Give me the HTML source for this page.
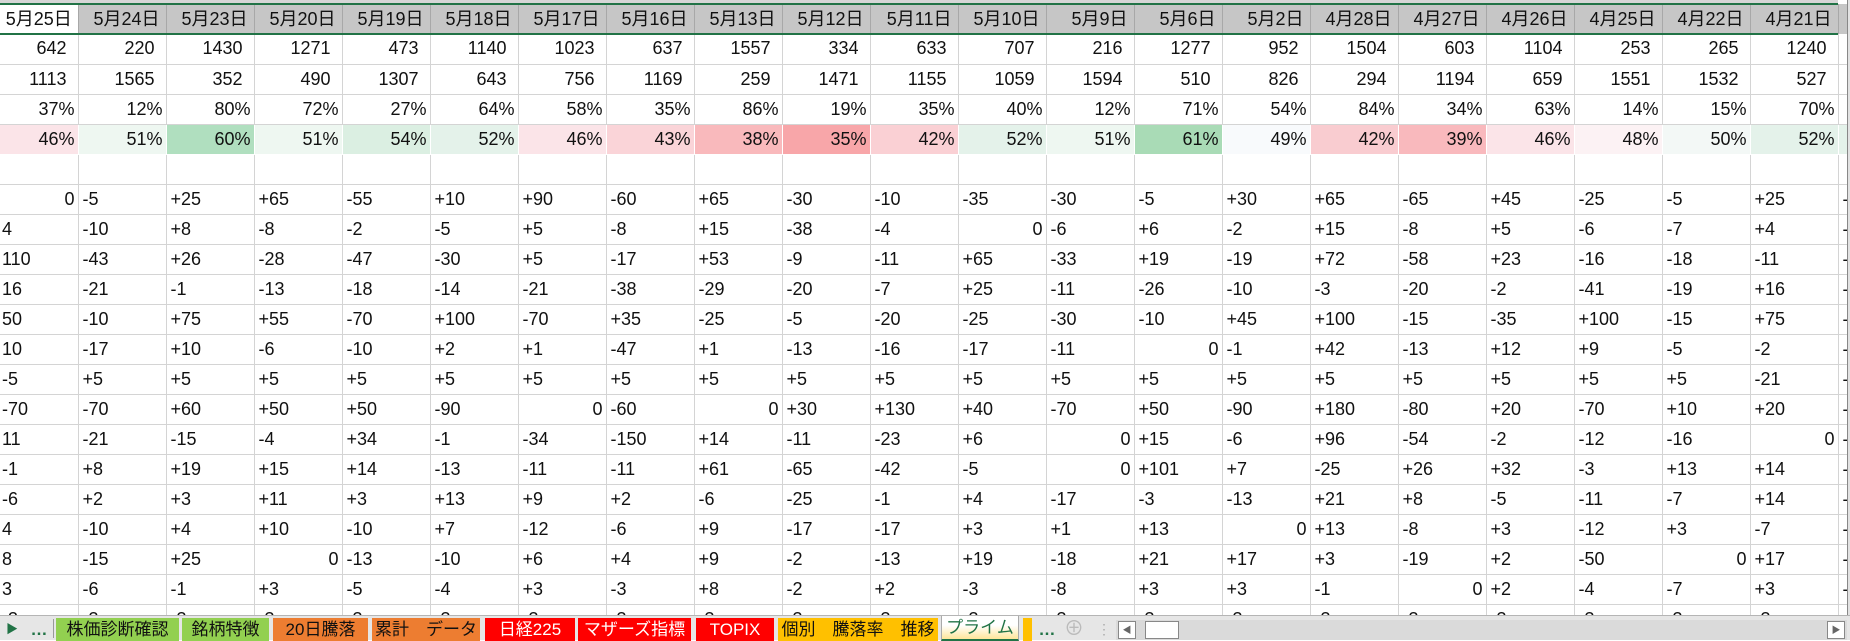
<!DOCTYPE html>
<html><head><meta charset="utf-8">
<style>
*{margin:0;padding:0;box-sizing:border-box}
body{width:1850px;height:640px;overflow:hidden;background:#fff;position:relative;font-family:"Liberation Sans","Noto Sans CJK JP",sans-serif;color:#111}
#top{position:absolute;left:0;top:0;width:1838px;height:4px;background:#d6d6d6}
table{position:absolute;left:0;top:4px;border-collapse:collapse;table-layout:fixed;width:1850px}
td{height:30px;border-right:1px solid #d4d4d4;border-bottom:1px solid #d4d4d4;font-size:18px;white-space:nowrap;overflow:hidden;vertical-align:middle;padding:0 4px;line-height:29px}
tr.h td{background:#c6c6c6;text-align:right;padding-right:6px;border-right:1px solid #a8a8a8;border-bottom:none}
tr.h td:first-child{background:#fff;text-align:center;padding:0}
tr.n td{text-align:right;padding-right:11px}
tr.p td{text-align:right;padding-right:3px}
tr.d td{text-align:left}
tr.d td.z{text-align:right;padding-right:3px}
tr.d td:first-child{padding-left:2px}
td.c{border-bottom-color:transparent;border-right-color:transparent}
#g1{position:absolute;left:0;top:3px;width:1838px;height:2px;background:#217346}
#g2{position:absolute;left:0;top:33px;width:1838px;height:2px;background:#217346}
#vs{position:absolute;left:1847px;top:0;width:3px;height:615px;background:#e2e2e2;border-left:1px solid #888}
#tb{position:absolute;left:0;top:615px;width:1850px;height:25px;background:#e6e6e6;border-top:1px solid #b5b5b5}
.t{position:absolute;top:2px;height:23px;font-size:17px;line-height:23px;text-align:center;white-space:nowrap}
</style></head><body>
<div id="top"></div>
<table>
<colgroup><col style="width:78px"><col span="20" style="width:88px"><col style="width:12px"></colgroup>
<tr class="h"><td>5月25日</td><td>5月24日</td><td>5月23日</td><td>5月20日</td><td>5月19日</td><td>5月18日</td><td>5月17日</td><td>5月16日</td><td>5月13日</td><td>5月12日</td><td>5月11日</td><td>5月10日</td><td>5月9日</td><td>5月6日</td><td>5月2日</td><td>4月28日</td><td>4月27日</td><td>4月26日</td><td>4月25日</td><td>4月22日</td><td>4月21日</td><td style="background:#c6c6c6"></td></tr>
<tr class="n"><td>642</td><td>220</td><td>1430</td><td>1271</td><td>473</td><td>1140</td><td>1023</td><td>637</td><td>1557</td><td>334</td><td>633</td><td>707</td><td>216</td><td>1277</td><td>952</td><td>1504</td><td>603</td><td>1104</td><td>253</td><td>265</td><td>1240</td><td></td></tr>
<tr class="n"><td>1113</td><td>1565</td><td>352</td><td>490</td><td>1307</td><td>643</td><td>756</td><td>1169</td><td>259</td><td>1471</td><td>1155</td><td>1059</td><td>1594</td><td>510</td><td>826</td><td>294</td><td>1194</td><td>659</td><td>1551</td><td>1532</td><td>527</td><td></td></tr>
<tr class="p"><td>37%</td><td>12%</td><td>80%</td><td>72%</td><td>27%</td><td>64%</td><td>58%</td><td>35%</td><td>86%</td><td>19%</td><td>35%</td><td>40%</td><td>12%</td><td>71%</td><td>54%</td><td>84%</td><td>34%</td><td>63%</td><td>14%</td><td>15%</td><td>70%</td><td></td></tr>
<tr class="p"><td class="c" style="background:#fbe4e8">46%</td><td class="c" style="background:#eef7f1">51%</td><td class="c" style="background:#b0dfbf">60%</td><td class="c" style="background:#eef7f1">51%</td><td class="c" style="background:#dbefe2">54%</td><td class="c" style="background:#e4f2ea">52%</td><td class="c" style="background:#fbe4e8">46%</td><td class="c" style="background:#fad4d8">43%</td><td class="c" style="background:#f9b9bc">38%</td><td class="c" style="background:#f8a6a9">35%</td><td class="c" style="background:#fad0d4">42%</td><td class="c" style="background:#e4f2ea">52%</td><td class="c" style="background:#eef7f1">51%</td><td class="c" style="background:#a9dbb6">61%</td><td class="c" style="background:#f8fafc">49%</td><td class="c" style="background:#f9ccd0">42%</td><td class="c" style="background:#f9b9bd">39%</td><td class="c" style="background:#fbe4e8">46%</td><td class="c" style="background:#fcf2f4">48%</td><td class="c" style="background:#f3f8f6">50%</td><td class="c" style="background:#e4f2ea">52%</td><td class="c" style="background:#e4f2ea"></td></tr>
<tr><td></td><td></td><td></td><td></td><td></td><td></td><td></td><td></td><td></td><td></td><td></td><td></td><td></td><td></td><td></td><td></td><td></td><td></td><td></td><td></td><td></td><td></td></tr>
<tr class="d"><td class="z">0</td><td>-5</td><td>+25</td><td>+65</td><td>-55</td><td>+10</td><td>+90</td><td>-60</td><td>+65</td><td>-30</td><td>-10</td><td>-35</td><td>-30</td><td>-5</td><td>+30</td><td>+65</td><td>-65</td><td>+45</td><td>-25</td><td>-5</td><td>+25</td><td>-</td></tr>
<tr class="d"><td>4</td><td>-10</td><td>+8</td><td>-8</td><td>-2</td><td>-5</td><td>+5</td><td>-8</td><td>+15</td><td>-38</td><td>-4</td><td class="z">0</td><td>-6</td><td>+6</td><td>-2</td><td>+15</td><td>-8</td><td>+5</td><td>-6</td><td>-7</td><td>+4</td><td>-</td></tr>
<tr class="d"><td>110</td><td>-43</td><td>+26</td><td>-28</td><td>-47</td><td>-30</td><td>+5</td><td>-17</td><td>+53</td><td>-9</td><td>-11</td><td>+65</td><td>-33</td><td>+19</td><td>-19</td><td>+72</td><td>-58</td><td>+23</td><td>-16</td><td>-18</td><td>-11</td><td>-</td></tr>
<tr class="d"><td>16</td><td>-21</td><td>-1</td><td>-13</td><td>-18</td><td>-14</td><td>-21</td><td>-38</td><td>-29</td><td>-20</td><td>-7</td><td>+25</td><td>-11</td><td>-26</td><td>-10</td><td>-3</td><td>-20</td><td>-2</td><td>-41</td><td>-19</td><td>+16</td><td>-</td></tr>
<tr class="d"><td>50</td><td>-10</td><td>+75</td><td>+55</td><td>-70</td><td>+100</td><td>-70</td><td>+35</td><td>-25</td><td>-5</td><td>-20</td><td>-25</td><td>-30</td><td>-10</td><td>+45</td><td>+100</td><td>-15</td><td>-35</td><td>+100</td><td>-15</td><td>+75</td><td>-</td></tr>
<tr class="d"><td>10</td><td>-17</td><td>+10</td><td>-6</td><td>-10</td><td>+2</td><td>+1</td><td>-47</td><td>+1</td><td>-13</td><td>-16</td><td>-17</td><td>-11</td><td class="z">0</td><td>-1</td><td>+42</td><td>-13</td><td>+12</td><td>+9</td><td>-5</td><td>-2</td><td>-</td></tr>
<tr class="d"><td>-5</td><td>+5</td><td>+5</td><td>+5</td><td>+5</td><td>+5</td><td>+5</td><td>+5</td><td>+5</td><td>+5</td><td>+5</td><td>+5</td><td>+5</td><td>+5</td><td>+5</td><td>+5</td><td>+5</td><td>+5</td><td>+5</td><td>+5</td><td>-21</td><td>-</td></tr>
<tr class="d"><td>-70</td><td>-70</td><td>+60</td><td>+50</td><td>+50</td><td>-90</td><td class="z">0</td><td>-60</td><td class="z">0</td><td>+30</td><td>+130</td><td>+40</td><td>-70</td><td>+50</td><td>-90</td><td>+180</td><td>-80</td><td>+20</td><td>-70</td><td>+10</td><td>+20</td><td>-</td></tr>
<tr class="d"><td>11</td><td>-21</td><td>-15</td><td>-4</td><td>+34</td><td>-1</td><td>-34</td><td>-150</td><td>+14</td><td>-11</td><td>-23</td><td>+6</td><td class="z">0</td><td>+15</td><td>-6</td><td>+96</td><td>-54</td><td>-2</td><td>-12</td><td>-16</td><td class="z">0</td><td>-</td></tr>
<tr class="d"><td>-1</td><td>+8</td><td>+19</td><td>+15</td><td>+14</td><td>-13</td><td>-11</td><td>-11</td><td>+61</td><td>-65</td><td>-42</td><td>-5</td><td class="z">0</td><td>+101</td><td>+7</td><td>-25</td><td>+26</td><td>+32</td><td>-3</td><td>+13</td><td>+14</td><td>-</td></tr>
<tr class="d"><td>-6</td><td>+2</td><td>+3</td><td>+11</td><td>+3</td><td>+13</td><td>+9</td><td>+2</td><td>-6</td><td>-25</td><td>-1</td><td>+4</td><td>-17</td><td>-3</td><td>-13</td><td>+21</td><td>+8</td><td>-5</td><td>-11</td><td>-7</td><td>+14</td><td>-</td></tr>
<tr class="d"><td>4</td><td>-10</td><td>+4</td><td>+10</td><td>-10</td><td>+7</td><td>-12</td><td>-6</td><td>+9</td><td>-17</td><td>-17</td><td>+3</td><td>+1</td><td>+13</td><td class="z">0</td><td>+13</td><td>-8</td><td>+3</td><td>-12</td><td>+3</td><td>-7</td><td>-</td></tr>
<tr class="d"><td>8</td><td>-15</td><td>+25</td><td class="z">0</td><td>-13</td><td>-10</td><td>+6</td><td>+4</td><td>+9</td><td>-2</td><td>-13</td><td>+19</td><td>-18</td><td>+21</td><td>+17</td><td>+3</td><td>-19</td><td>+2</td><td>-50</td><td class="z">0</td><td>+17</td><td>-</td></tr>
<tr class="d"><td>3</td><td>-6</td><td>-1</td><td>+3</td><td>-5</td><td>-4</td><td>+3</td><td>-3</td><td>+8</td><td>-2</td><td>+2</td><td>-3</td><td>-8</td><td>+3</td><td>+3</td><td>-1</td><td class="z">0</td><td>+2</td><td>-4</td><td>-7</td><td>+3</td><td>-</td></tr>
<tr class="d"><td>-3</td><td>-3</td><td>-3</td><td>-3</td><td>-3</td><td>-3</td><td>-3</td><td>-3</td><td>-3</td><td>-3</td><td>-3</td><td>-3</td><td>-3</td><td>-3</td><td>-3</td><td>-3</td><td>-3</td><td>-3</td><td>-3</td><td>-3</td><td>-3</td><td></td></tr>
</table>
<div id="g1"></div><div id="g2"></div>
<div id="vs"></div>
<div id="tb">
 <div class="t" style="left:6px;width:10px;color:#217346;font-size:12px">&#9654;</div>
 <div class="t" style="left:30px;width:18px;color:#217346;font-weight:bold">…</div>
 <div style="position:absolute;left:53px;top:3px;width:1px;height:19px;background:#999"></div>
 <div class="t" style="left:56px;width:123px;background:#92d050">株価診断確認</div>
 <div class="t" style="left:182px;width:87px;background:#92d050">銘柄特徴</div>
 <div class="t" style="left:273px;width:95px;background:#ed7d31">20日騰落</div>
 <div class="t" style="left:372px;width:108px;background:#ed7d31">累計　データ</div>
 <div class="t" style="left:485px;width:90px;background:#ff0000;color:#fff">日経225</div>
 <div class="t" style="left:578px;width:113px;background:#ff0000;color:#fff">マザーズ指標</div>
 <div class="t" style="left:696px;width:78px;background:#ff0000;color:#fff">TOPIX</div>
 <div class="t" style="left:778px;width:160px;background:#ffc000">個別　騰落率　推移</div>
 <div class="t" style="left:941px;width:78px;top:0;height:25px;background:linear-gradient(#fff 40%,#ffe699);color:#217346;border-bottom:2px solid #217346;border-left:1px solid #aaa;border-right:1px solid #aaa">プライム</div>
 <div class="t" style="left:1023px;width:9px;background:#ffc000"></div>
 <div class="t" style="left:1038px;width:18px;color:#217346;font-weight:bold">…</div>
 <div class="t" style="left:1064px;width:20px;color:#bbb;font-size:20px">⊕</div>
 <div class="t" style="left:1097px;width:8px;color:#aaa;font-size:14px">⋮</div>
 <div style="position:absolute;left:1116px;top:4px;width:731px;height:20px;background:#dadada"></div>
 <div style="position:absolute;left:1118px;top:5px;width:18px;height:18px;background:#fff;border:1px solid #888;font-size:9px;line-height:16px;text-align:center;color:#666">◀</div>
 <div style="position:absolute;left:1145px;top:5px;width:34px;height:18px;background:#fff;border:1px solid #888"></div>
 <div style="position:absolute;left:1827px;top:5px;width:18px;height:18px;background:#fff;border:1px solid #888;font-size:9px;line-height:16px;text-align:center;color:#666">▶</div>
</div>
</body></html>
